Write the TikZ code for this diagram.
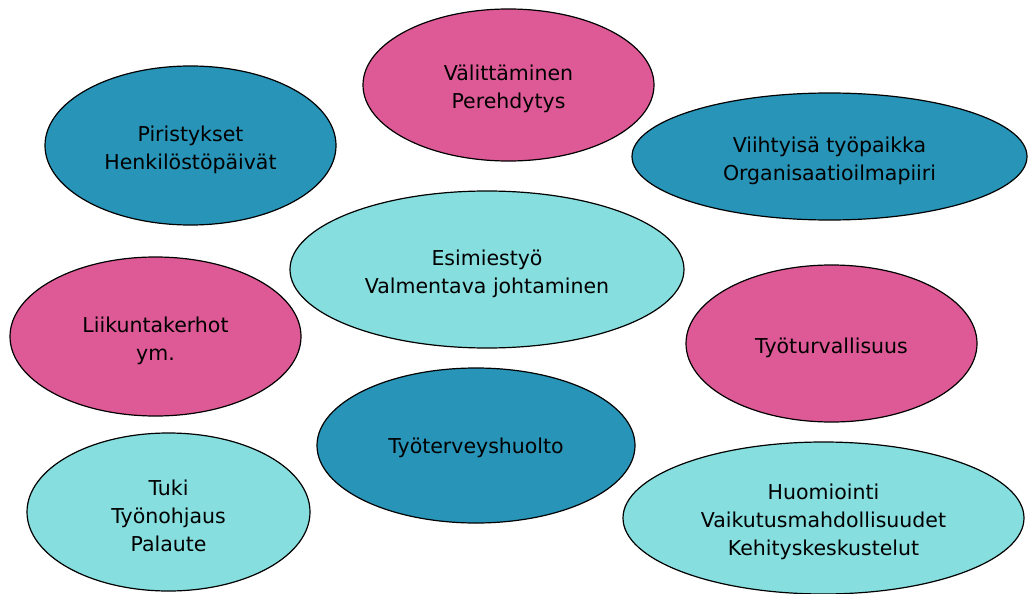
\documentclass[tikz,border=0pt]{standalone}
\usepackage{fontspec}
\setmainfont{DejaVu Sans}
\usetikzlibrary{shapes.geometric}
\definecolor{pinkc}{HTML}{DD5A96}
\definecolor{bluec}{HTML}{2894B8}
\definecolor{cyanc}{HTML}{86DEDF}
\tikzset{
  bubble/.style={ellipse, draw=black, line width=1.2pt, inner sep=0pt},
  pinkb/.style={bubble, fill=pinkc},
  blueb/.style={bubble, fill=bluec},
  cyanb/.style={bubble, fill=cyanc},
  lbl/.style={align=center, inner sep=0pt, text=black, font=\fontsize{20.5}{28}\selectfont},
}
\begin{document}
\begin{tikzpicture}[x=1pt,y=-1pt]
\useasboundingbox (0,0) rectangle (1028,594);
\node[pinkb, minimum width=291pt, minimum height=152pt] (val) at (508.5,85) {};
\node[blueb, minimum width=291pt, minimum height=159pt] (pir) at (190.5,145.5) {};
\node[blueb, minimum width=395pt, minimum height=127pt] (vii) at (829.5,156.5) {};
\node[cyanb, minimum width=394pt, minimum height=157pt] (esi) at (487,269.5) {};
\node[pinkb, minimum width=291pt, minimum height=159pt] (lii) at (155.5,336.5) {};
\node[pinkb, minimum width=291pt, minimum height=157pt] (tur) at (831.5,343.5) {};
\node[blueb, minimum width=318pt, minimum height=155pt] (ter) at (476,445.5) {};
\node[cyanb, minimum width=283pt, minimum height=158pt] (tuk) at (168.5,512) {};
\node[cyanb, minimum width=401pt, minimum height=152pt] (huo) at (823.5,518) {};
\node[lbl] (tval) at ([yshift=-4pt]val.center) {Välittäminen\\Perehdytys};
\node[lbl] (tpir) at ([yshift=-4pt]pir.center) {Piristykset\\Henkilöstöpäivät};
\node[lbl] (tvii) at ([yshift=-4pt]vii.center) {Viihtyisä työpaikka\\Organisaatioilmapiiri};
\node[lbl] (tesi) at ([yshift=-4pt]esi.center) {Esimiestyö\\Valmentava johtaminen};
\node[lbl] (tlii) at ([yshift=-4pt]lii.center) {Liikuntakerhot\\ym.};
\node[lbl] (ttur) at ([yshift=-4pt]tur.center) {Työturvallisuus};
\node[lbl] (tter) at ([yshift=-2pt]ter.center) {Työterveyshuolto};
\node[lbl] (ttuk) at ([yshift=-4pt]tuk.center) {Tuki\\Työnohjaus\\Palaute};
\node[lbl] (thuo) at ([yshift=-4pt]huo.center) {Huomiointi\\Vaikutusmahdollisuudet\\Kehityskeskustelut};
\end{tikzpicture}
\end{document}
